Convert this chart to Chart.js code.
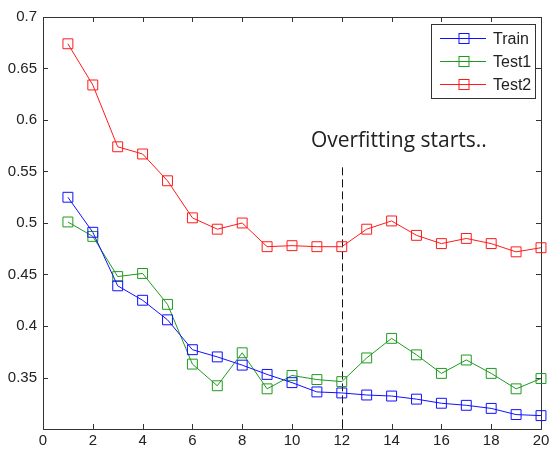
<!DOCTYPE html>
<html>
<head>
<meta charset="utf-8">
<script src="https://cdn.jsdelivr.net/npm/chart.js@4.4.1/dist/chart.umd.min.js"></script>
<style>
  html, body { margin:0; padding:0; background:#fff; }
  canvas { display:block; }
</style>
</head>
<body>
<canvas id="lossChart" width="549" height="452"></canvas>
<script>
// ========== 数据 ==========
const epochs = [1,2,3,4,5,6,7,8,9,10,11,12,13,14,15,16,17,18,19,20];
const trainErr = [0.525,0.491,0.439,0.425,0.406,0.377,0.370,0.362,0.353,0.345,0.336,0.335,0.333,0.332,0.329,0.325,0.323,0.320,0.314,0.313];
const test1Err = [0.501,0.487,0.448,0.451,0.421,0.363,0.342,0.374,0.339,0.352,0.348,0.346,0.369,0.388,0.372,0.354,0.367,0.354,0.339,0.349];
const test2Err = [0.674,0.634,0.574,0.567,0.541,0.505,0.494,0.500,0.477,0.478,0.477,0.477,0.494,0.502,0.488,0.480,0.485,0.480,0.472,0.476];

const xTicks = [0,2,4,6,8,10,12,14,16,18,20];
const xTickLabels = ['0','2','4','6','8','10','12','14','16','18','20'];
const yTicks = [0.3,0.35,0.4,0.45,0.5,0.55,0.6,0.65,0.7];
const yTickLabels = ['','0.35','0.4','0.45','0.5','0.55','0.6','0.65','0.7'];

const overfitAt = 12;
const noteText = 'Overfitting starts..';

const seriesNames = ['Train','Test1','Test2'];
const seriesColors = ['#1010ff','#1f9a1f','#ff1a1a'];

// ========== 工具 ==========
function toPoints(ys) {
  return epochs.map((x, i) => ({ x: x, y: ys[i] }));
}

function makeSet(i, ys) {
  return {
    label: seriesNames[i],
    data: toPoints(ys),
    borderColor: seriesColors[i],
    borderWidth: 1,
    pointStyle: 'rect',
    pointRadius: 7,
    pointHoverRadius: 7,
    pointBorderWidth: 1,
    pointBorderColor: seriesColors[i],
    pointBackgroundColor: 'rgba(0,0,0,0)',
    tension: 0,
    clip: false
  };
}

// ========== 边框 + 内向刻度 ==========
const framePlugin = {
  id: 'frame',
  beforeDatasetsDraw(chart) {
    const { ctx, chartArea: a, scales } = chart;
    ctx.save();
    ctx.strokeStyle = '#333';
    ctx.lineWidth = 1;
    ctx.strokeRect(a.left + 0.5, a.top + 0.5, a.right - a.left, a.bottom - a.top);
    ctx.beginPath();
    xTicks.forEach(v => {
      const px = Math.round(scales.x.getPixelForValue(v)) + 0.5;
      ctx.moveTo(px, a.bottom); ctx.lineTo(px, a.bottom - 5);
      ctx.moveTo(px, a.top); ctx.lineTo(px, a.top + 5);
    });
    yTicks.forEach(v => {
      const py = Math.round(scales.y.getPixelForValue(v)) + 0.5;
      ctx.moveTo(a.left, py); ctx.lineTo(a.left + 5, py);
      ctx.moveTo(a.right, py); ctx.lineTo(a.right - 5, py);
    });
    ctx.stroke();

    // 过拟合分界虚线
    const dx = Math.round(scales.x.getPixelForValue(overfitAt)) + 0.5;
    ctx.setLineDash([8, 4]);
    ctx.strokeStyle = '#111';
    ctx.beginPath();
    ctx.moveTo(dx, scales.y.getPixelForValue(0.554));
    ctx.lineTo(dx, a.bottom);
    ctx.stroke();
    ctx.setLineDash([]);

    ctx.fillStyle = '#222';
    ctx.font = '21px "Open Sans"';
    ctx.textBaseline = 'alphabetic';
    ctx.textAlign = 'left';
    ctx.fillText(noteText, scales.x.getPixelForValue(10.76), scales.y.getPixelForValue(0.5736));
    ctx.restore();
  }
};

// ========== 图例 ==========
const legendPlugin = {
  id: 'boxLegend',
  afterDraw(chart) {
    const { ctx, chartArea: a } = chart;
    const w = 104, h = 74;
    const bx = a.right - 6 - w, by = a.top + 7;
    ctx.save();
    ctx.fillStyle = '#fff';
    ctx.fillRect(bx, by, w, h);
    ctx.strokeStyle = '#333';
    ctx.lineWidth = 1;
    ctx.strokeRect(bx + 0.5, by + 0.5, w, h);
    ctx.font = '16px "Liberation Sans", Arial, sans-serif';
    ctx.textBaseline = 'middle';
    seriesNames.forEach((name, i) => {
      const y = Math.round(by + 14 + i * 23.2) + 0.5;
      ctx.strokeStyle = seriesColors[i];
      ctx.beginPath();
      ctx.moveTo(bx + 9, y); ctx.lineTo(bx + 55, y);
      ctx.stroke();
      ctx.strokeRect(bx + 28, y - 5, 10, 10);
      ctx.fillStyle = '#222';
      ctx.fillText(name, bx + 62, y + 1);
    });
    ctx.restore();
  }
};

// ========== 绘图 ==========
new Chart(document.getElementById('lossChart'), {
  type: 'line',
  data: {
    datasets: [makeSet(0, trainErr), makeSet(1, test1Err), makeSet(2, test2Err)]
  },
  options: {
    responsive: false,
    devicePixelRatio: 1,
    animation: false,
    layout: { padding: { top: 17, right: 8, left: 0, bottom: 0 } },
    plugins: { legend: { display: false }, tooltip: { enabled: false } },
    scales: {
      x: {
        type: 'linear', min: 0, max: 20,
        grid: { display: false, drawTicks: false },
        border: { display: false },
        afterBuildTicks: s => { s.ticks = xTicks.map(v => ({ value: v })); },
        afterFit: s => { s.height = 23; s.paddingLeft = 0; s.paddingRight = 0; },
        ticks: {
          padding: 3,
          color: '#222',
          font: { family: '"Liberation Sans", Arial', size: 15 },
          maxRotation: 0,
          callback: (v, i) => xTickLabels[i]
        }
      },
      y: {
        type: 'linear', min: 0.3, max: 0.7,
        grid: { display: false, drawTicks: false },
        border: { display: false },
        afterBuildTicks: s => { s.ticks = yTicks.map(v => ({ value: v })); },
        afterFit: s => { s.width = 43; s.paddingTop = 0; s.paddingBottom = 0; },
        ticks: {
          padding: 6,
          color: '#222',
          font: { family: '"Liberation Sans", Arial', size: 15 },
          callback: (v, i) => yTickLabels[i]
        }
      }
    }
  },
  plugins: [framePlugin, legendPlugin]
});
</script>
</body>
</html>
